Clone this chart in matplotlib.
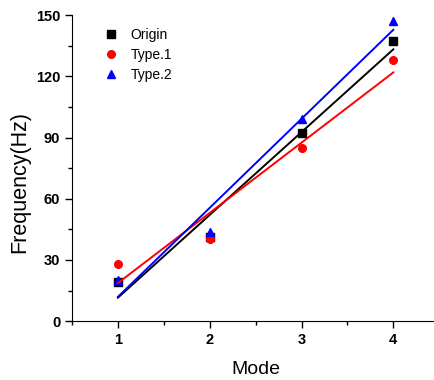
import matplotlib
matplotlib.use('Agg')
import matplotlib.pyplot as plt
import numpy as np
from matplotlib.ticker import MultipleLocator

plt.rcParams['font.family'] = ['Liberation Sans', 'DejaVu Sans']

modes = [1, 2, 3, 4]
origin = [19.0, 41.0, 92.3, 137.2]
type1 = [27.9, 40.5, 85.0, 127.8]
type2 = [20.0, 43.5, 99.0, 147.0]

series = [
	('Origin', origin, 'black', 's'),
	('Type.1', type1, 'red', 'o'),
	('Type.2', type2, 'blue', '^'),
]

fig = plt.figure(figsize=(4.34, 3.8), dpi=100)
ax = fig.add_axes([0.166, 0.155, 0.846, 0.805])

x = np.array(modes, dtype=float)
for name, vals, col, mk in series:
	ax.plot(x, vals, linestyle='none', marker=mk, color=col, markersize=5.5, label=name)
for name, vals, col, mk in series:
	k, b = np.polyfit(x, vals, 1)
	ax.plot(x, k * x + b, '-', color=col, linewidth=1.4)

ax.set_xlim(0.5, 4.5)
ax.set_ylim(0, 150)
ax.set_xticks(modes)
ax.set_yticks(np.arange(0, 151, 30))
ax.xaxis.set_minor_locator(MultipleLocator(0.5))
ax.yaxis.set_minor_locator(MultipleLocator(15))
ax.tick_params(which='major', direction='out', length=5, width=1, labelsize=10.5)
ax.tick_params(which='minor', direction='out', length=3, width=1)
for lab in ax.get_xticklabels() + ax.get_yticklabels():
	lab.set_fontweight('bold')
ax.spines['top'].set_visible(False)
ax.spines['right'].set_visible(False)

ax.set_xlabel('Mode', fontsize=14, labelpad=10)
ax.set_ylabel('Frequency(Hz)', fontsize=15.5)
ax.yaxis.set_label_coords(-0.115, 0.456)

ax.legend(loc='upper left', bbox_to_anchor=(0.054, 1.0), frameon=False,
		  fontsize=10, handlelength=1.0, handletextpad=0.9, labelspacing=0.45)

fig.savefig('out.png', dpi=100)
